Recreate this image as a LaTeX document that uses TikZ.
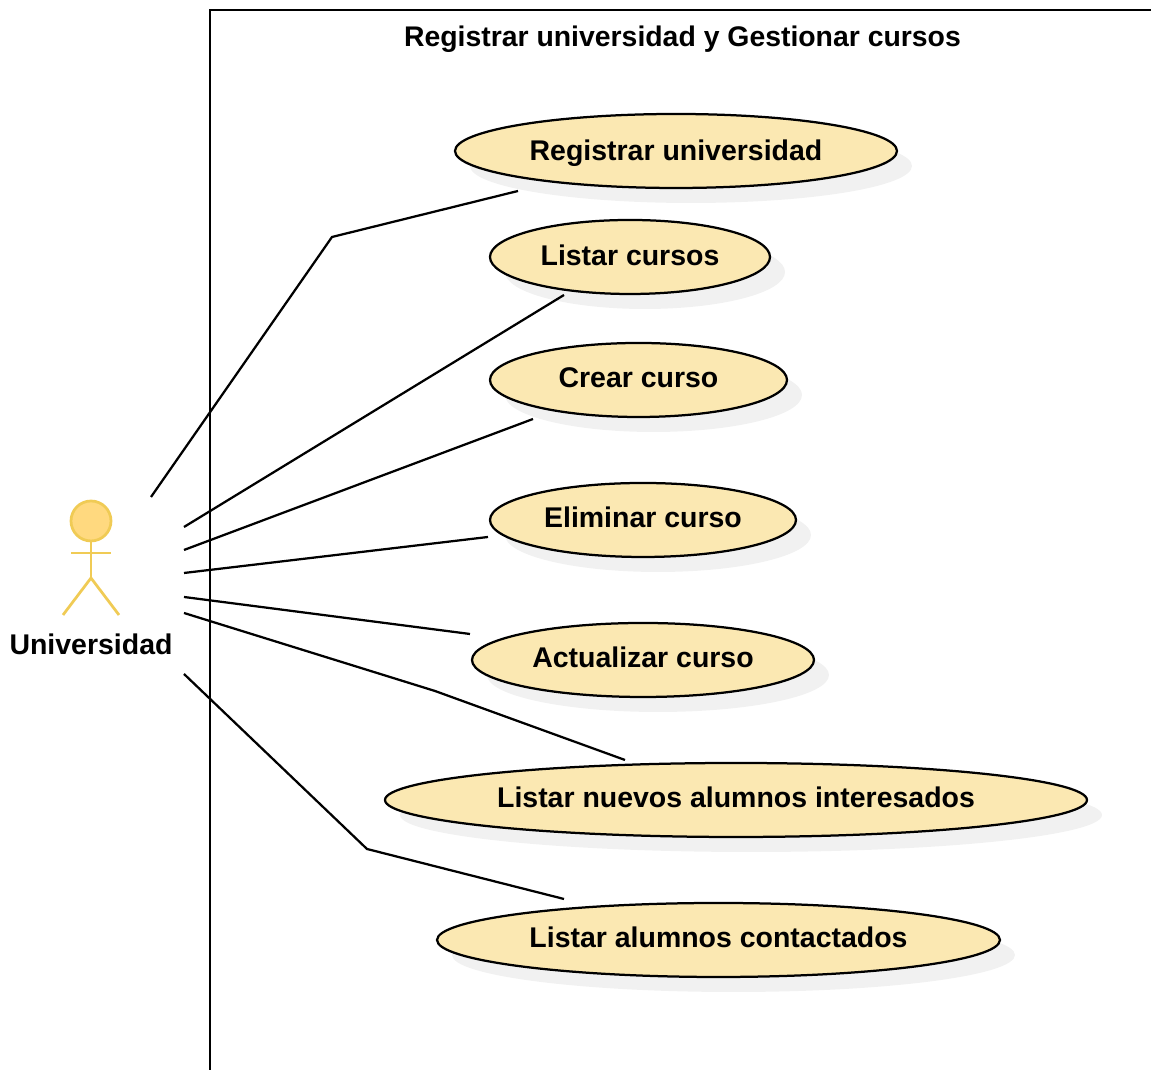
\documentclass[tikz,border=0pt]{standalone}
\usepackage{fontspec}
\setmainfont{Liberation Sans}
\usetikzlibrary{shadows,shapes.geometric}
\definecolor{usecasefill}{HTML}{FBE8B2}
\definecolor{actorfill}{HTML}{FFD97F}
\definecolor{actorline}{HTML}{F0CB55}
\tikzset{
	usecase/.style={ellipse, draw=black, line width=0.45mm, fill=usecasefill, inner sep=0pt, minimum height=1.48cm,
		text height=0.4cm, text depth=0.08cm,
		drop shadow={shadow xshift=0.3cm, shadow yshift=-0.3cm, fill=black!11, opacity=0.5},
		font=\bfseries\fontsize{16.2}{18}\selectfont},
	assoc/.style={line width=0.45mm, color=black},
	actorpart/.style={line width=0.55mm, color=actorline}
}

\begin{document}
\begin{tikzpicture}
			%%%%% START %%%%%
			\useasboundingbox (0, 0) rectangle (23.02, 21.4);
			
			\draw[line width=0.5mm] (4.2, 0) -- (4.2, 21.2) -- (23.02, 21.2);
			\node[font=\bfseries\fontsize{16.15}{18}\selectfont] (title) at (13.65, 20.62) {Registrar universidad y Gestionar cursos};
			
			\node[usecase, minimum width=8.84cm, text height=0.48cm] (regUni) at (13.52, 18.38) {Registrar universidad};
			\node[usecase, minimum width=5.6cm, text height=0.44cm] (listCur) at (12.6, 16.26) {Listar cursos};
			\node[usecase, minimum width=5.94cm] (newCur) at (12.77, 13.8) {Crear curso};
			\node[usecase, minimum width=6.12cm] (delCur) at (12.86, 11) {Eliminar curso};
			\node[usecase, minimum width=6.84cm] (updCur) at (12.86, 8.2) {Actualizar curso};
			\node[usecase, minimum width=14.04cm] (listNew) at (14.72, 5.4) {Listar nuevos alumnos interesados};
			\node[usecase, minimum width=11.26cm] (listCon) at (14.37, 2.6) {Listar alumnos contactados};
			
			\draw[actorpart, fill=actorfill] (1.82, 10.98) circle (0.4);
			\draw[actorpart] (1.82, 10.58) -- (1.82, 9.84);
			\draw[actorpart] (1.42, 10.34) -- (2.22, 10.34);
			\draw[actorpart] (1.26, 9.1) -- (1.82, 9.84) -- (2.38, 9.1);
			\node[font=\bfseries\fontsize{16.2}{18}\selectfont] (uni) at (1.82, 8.52) {Universidad};
			
			\coordinate (aRegUni) at (3.02, 11.46);
			\coordinate (aListCur) at (3.68, 10.86);
			\coordinate (aNewCur) at (3.68, 10.4);
			\coordinate (aDelCur) at (3.68, 9.94);
			\coordinate (aUpdCur) at (3.68, 9.46);
			\coordinate (aListNew) at (3.68, 9.14);
			\coordinate (aListCon) at (3.68, 7.92);
			
			\coordinate (eRegUni) at (10.36, 17.58);
			\coordinate (eListCur) at (11.28, 15.5);
			\coordinate (eNewCur) at (10.66, 13.02);
			\coordinate (eDelCur) at (9.76, 10.66);
			\coordinate (eUpdCur) at (9.4, 8.72);
			\coordinate (eListNew) at (12.5, 6.2);
			\coordinate (eListCon) at (11.28, 3.42);
			
			\draw[assoc] (aRegUni) -- (6.64, 16.66) -- (eRegUni);
			\draw[assoc] (aListCur) -- (eListCur);
			\draw[assoc] (aNewCur) -- (eNewCur);
			\draw[assoc] (aDelCur) -- (eDelCur);
			\draw[assoc] (aUpdCur) -- (eUpdCur);
			\draw[assoc] (aListNew) -- (8.7, 7.58) -- (eListNew);
			\draw[assoc] (aListCon) -- (7.34, 4.42) -- (eListCon);
			%%%%% END %%%%%
		\end{tikzpicture}
\end{document}
